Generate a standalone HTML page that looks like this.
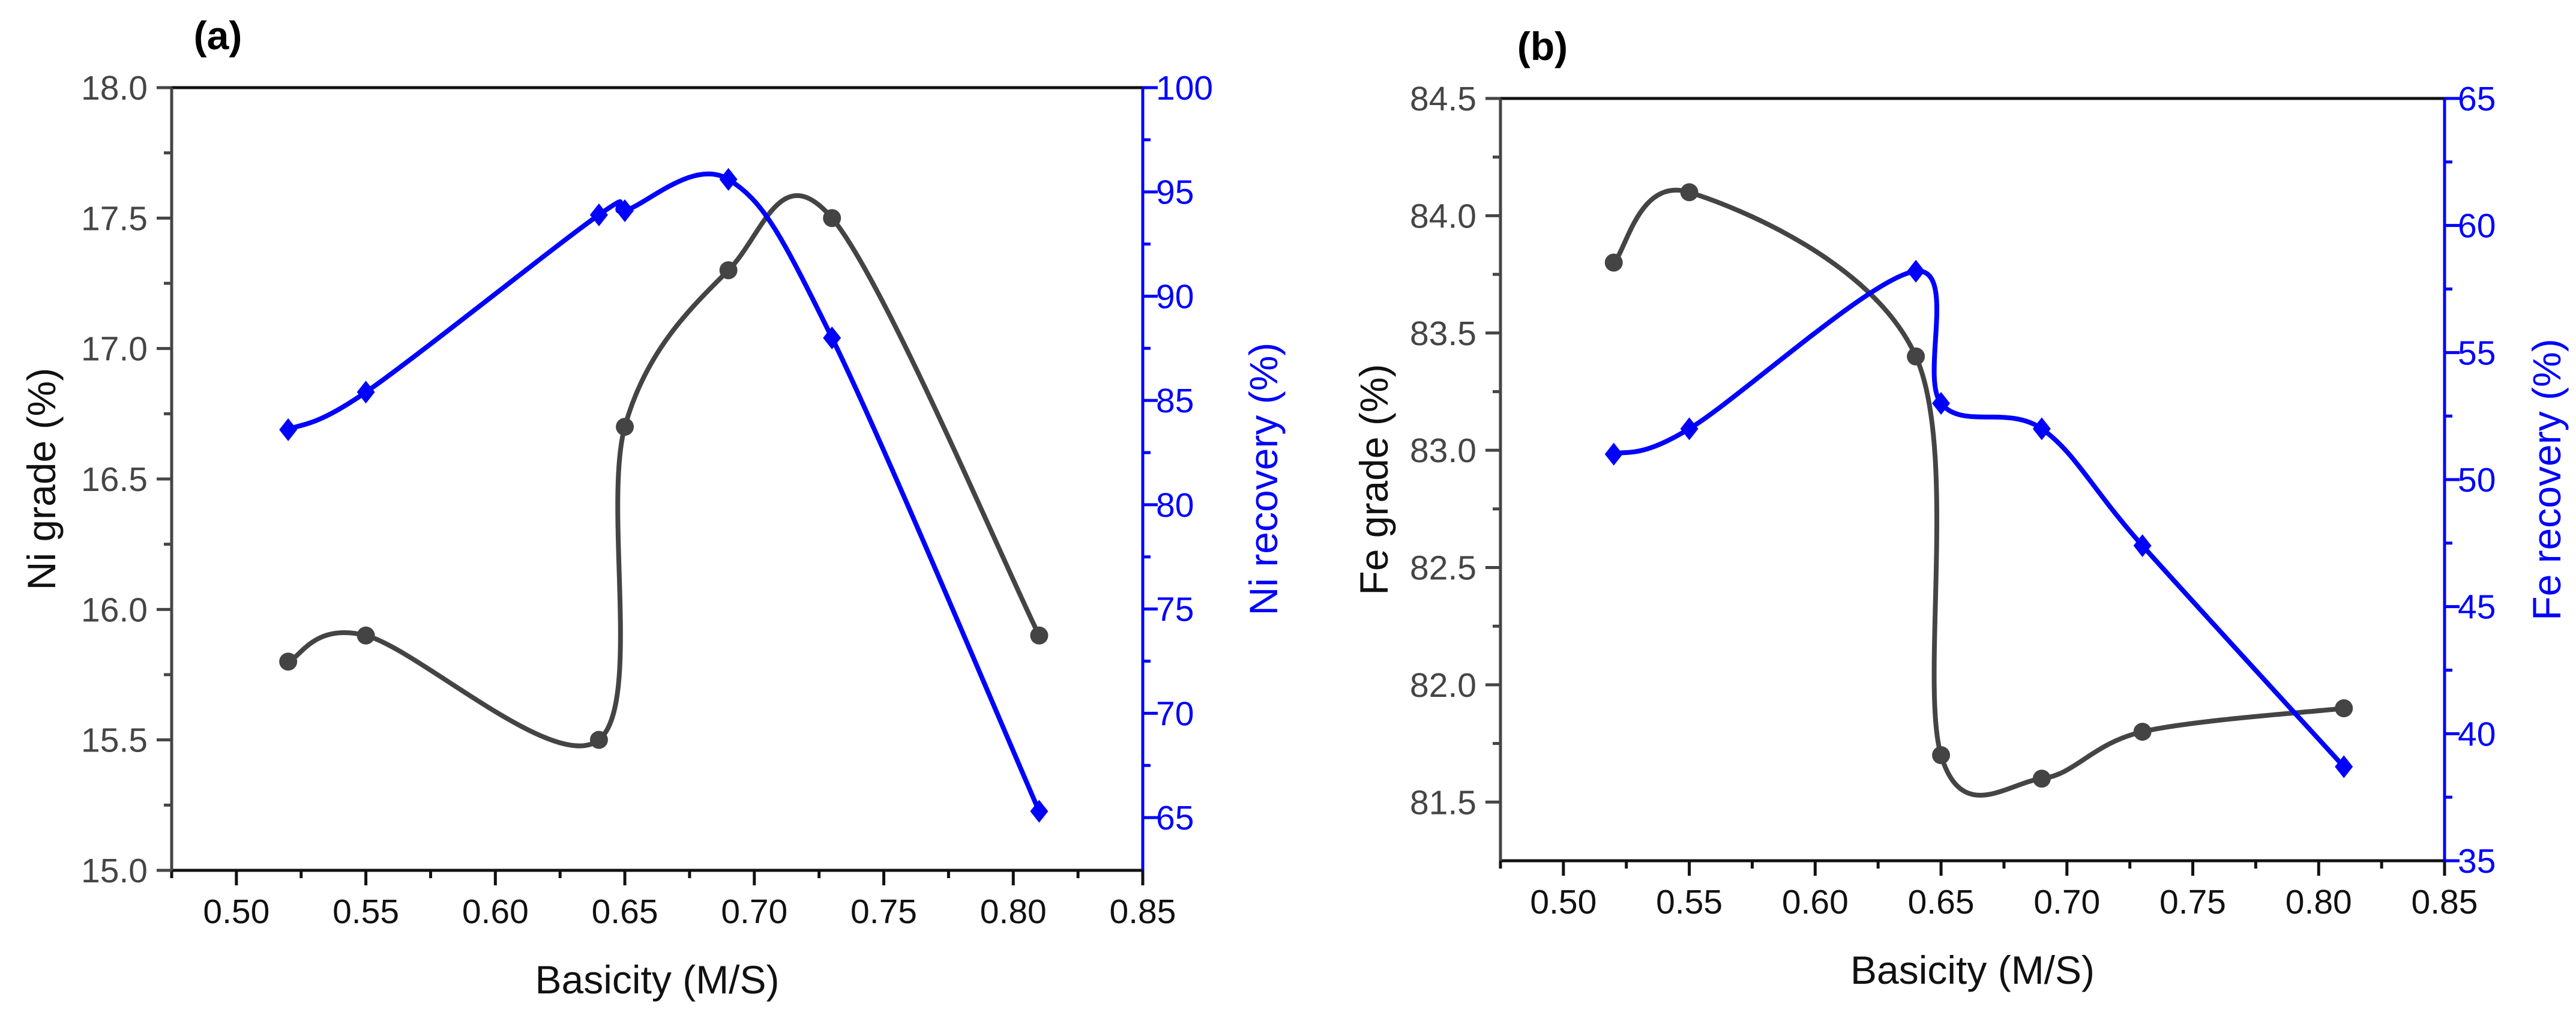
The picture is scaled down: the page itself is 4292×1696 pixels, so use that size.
<!DOCTYPE html>
<html><head><meta charset="utf-8"><style>
html,body{margin:0;padding:0;background:#fff;}
svg{display:block;font-family:"Liberation Sans",Arial,sans-serif;}
</style></head><body>
<svg id="fig" width="4292" height="1696" viewBox="0 0 4292 1696" xmlns="http://www.w3.org/2000/svg"></svg>
<script>
// ---- Data ----
const basicity = [0.52, 0.55, 0.64, 0.65, 0.69, 0.73, 0.81];
const niGrade = [15.8, 15.9, 15.5, 16.7, 17.3, 17.5, 15.9];
const niRecovery = [83.6, 85.4, 93.9, 94.1, 95.6, 88.0, 65.3];
const feGrade = [83.8, 84.1, 83.4, 81.7, 81.6, 81.8, 81.9];
const feRecovery = [51.0, 52.0, 58.2, 53.0, 52.0, 47.4, 38.7];
const xTicks = ["0.50","0.55","0.60","0.65","0.70","0.75","0.80","0.85"];
const niGradeTicks = ["15.0","15.5","16.0","16.5","17.0","17.5","18.0"];
const niRecTicks = ["65","70","75","80","85","90","95","100"];
const feGradeTicks = ["81.5","82.0","82.5","83.0","83.5","84.0","84.5"];
const feRecTicks = ["35","40","45","50","55","60","65"];

const NS = "http://www.w3.org/2000/svg";
const svg = document.getElementById("fig");
function mk(tag, attrs, parent, name, inter) {
  const e = document.createElementNS(NS, tag);
  for (const k in attrs) e.setAttribute(k, attrs[k]);
  
  
  (parent || svg).appendChild(e);
  return e;
}
function txt(x, y, s, attrs, name) {
  const e = mk("text", Object.assign({x: x, y: y}, attrs), svg, name, false);
  e.textContent = s;
  return e;
}
function splinePath(pts) {
  let d = "M" + pts[0][0] + "," + pts[0][1];
  for (let i = 0; i < pts.length - 1; i++) {
    const p0 = pts[Math.max(0, i - 1)], p1 = pts[i], p2 = pts[i + 1], p3 = pts[Math.min(pts.length - 1, i + 2)];
    const c1x = p1[0] + (p2[0] - p0[0]) / 6, c1y = p1[1] + (p2[1] - p0[1]) / 6;
    const c2x = p2[0] - (p3[0] - p1[0]) / 6, c2y = p2[1] - (p3[1] - p1[1]) / 6;
    d += " C" + c1x + "," + c1y + " " + c2x + "," + c2y + " " + p2[0] + "," + p2[1];
  }
  return d;
}

function panel(cfg) {
  const L = cfg.L, R = cfg.R, T = cfg.T, B = cfg.B;
  const xmin = 0.475, xmax = 0.85;
  const sx = v => L + (v - xmin) / (xmax - xmin) * (R - L);
  const sy1 = v => B - (v - cfg.y1min) / (cfg.y1max - cfg.y1min) * (B - T);
  const sy2 = v => B - (v - cfg.y2min) / (cfg.y2max - cfg.y2min) * (B - T);
  const gray = "#454545";
  mk("line", {x1: L, y1: T, x2: R, y2: T, stroke: "#111", "stroke-width": 5}, svg, cfg.p + "-top-frame", false);
  mk("line", {x1: L, y1: B, x2: R, y2: B, stroke: "#111", "stroke-width": 5}, svg, cfg.p + "-x-axis", false);
  mk("line", {x1: L, y1: T, x2: L, y2: B, stroke: gray, "stroke-width": 5}, svg, cfg.p + "-left-axis", false);
  mk("line", {x1: R, y1: T, x2: R, y2: B + 2, stroke: "#0000ff", "stroke-width": 5}, svg, cfg.p + "-right-axis", false);
  xTicks.forEach((t, i) => {
    const v = parseFloat(t), x = sx(v);
    mk("line", {x1: x, y1: B, x2: x, y2: B + 25, stroke: "#111", "stroke-width": 5}, svg, cfg.p + "-x-tick", false);
    const xm = sx(v - 0.025);
    mk("line", {x1: xm, y1: B, x2: xm, y2: B + 13, stroke: "#111", "stroke-width": 5}, svg, cfg.p + "-x-minor-tick", false);
    txt(x, B + 88, t, {"font-size": 57, fill: "#111", "text-anchor": "middle"}, cfg.p + "-x-tick-label");
  });
  cfg.y1Ticks.forEach((t, i) => {
    const v = parseFloat(t), y = sy1(v);
    mk("line", {x1: L - 25, y1: y, x2: L, y2: y, stroke: gray, "stroke-width": 5}, svg, cfg.p + "-left-tick", false);
    const ym = sy1(v + cfg.y1step / 2);
    if (ym > T + 5) mk("line", {x1: L - 13, y1: ym, x2: L, y2: ym, stroke: gray, "stroke-width": 5}, svg, cfg.p + "-left-minor-tick", false);
    const ymb = sy1(v - cfg.y1step / 2);
    if (i === 0 && ymb < B - 5) mk("line", {x1: L - 13, y1: ymb, x2: L, y2: ymb, stroke: gray, "stroke-width": 5}, svg, cfg.p + "-left-minor-tick", false);
    txt(L - 40, y + 20, t, {"font-size": 57, fill: gray, "text-anchor": "end"}, cfg.p + "-left-tick-label");
  });
  cfg.y2Ticks.forEach((t, i) => {
    const v = parseFloat(t), y = sy2(v);
    mk("line", {x1: R, y1: y, x2: R + 25, y2: y, stroke: "#0000ff", "stroke-width": 5}, svg, cfg.p + "-right-tick", false);
    const ym = sy2(v + cfg.y2step / 2);
    if (ym > T + 5) mk("line", {x1: R, y1: ym, x2: R + 13, y2: ym, stroke: "#0000ff", "stroke-width": 5}, svg, cfg.p + "-right-minor-tick", false);
    const ymb = sy2(v - cfg.y2step / 2);
    if (i === 0 && ymb < B - 5) mk("line", {x1: R, y1: ymb, x2: R + 13, y2: ymb, stroke: "#0000ff", "stroke-width": 5}, svg, cfg.p + "-right-minor-tick", false);
    txt(R + 22, y + 20, t, {"font-size": 57, fill: "#0000ff", "text-anchor": "start"}, cfg.p + "-right-tick-label");
  });
  txt(cfg.labX, cfg.labY, cfg.label, {"font-size": 66, "font-weight": "bold", fill: "#000", "text-anchor": "middle"}, cfg.p + "-panel-label");
  txt((L + R) / 2, B + 205, "Basicity (M/S)", {"font-size": 66, fill: "#111", "text-anchor": "middle"}, cfg.p + "-x-axis-title");
  const ly = (T + B) / 2;
  txt(0, 0, cfg.y1Title, {"font-size": 66, fill: "#111", "text-anchor": "middle", transform: "translate(" + (cfg.y1TitleX) + "," + ly + ") rotate(-90)"}, cfg.p + "-left-axis-title");
  txt(0, 0, cfg.y2Title, {"font-size": 66, fill: "#0000ff", "text-anchor": "middle", transform: "translate(" + (cfg.y2TitleX) + "," + ly + ") rotate(-90)"}, cfg.p + "-right-axis-title");
  const p1 = basicity.map((b, i) => [sx(b), sy1(cfg.s1[i])]);
  mk("path", {d: splinePath(p1), fill: "none", stroke: "#444", "stroke-width": 8}, svg, cfg.p + "-grade-line", false);
  p1.forEach(p => mk("circle", {cx: p[0], cy: p[1], r: 15, fill: "#444"}, svg, cfg.p + "-grade-point", false));
  const p2 = basicity.map((b, i) => [sx(b), sy2(cfg.s2[i])]);
  mk("path", {d: splinePath(p2), fill: "none", stroke: "#0000ff", "stroke-width": 8}, svg, cfg.p + "-recovery-line", false);
  p2.forEach(p => mk("polygon", {points: (p[0]) + "," + (p[1] - 19) + " " + (p[0] + 15) + "," + p[1] + " " + p[0] + "," + (p[1] + 19) + " " + (p[0] - 15) + "," + p[1], fill: "#0000ff"}, svg, cfg.p + "-recovery-point", false));
}

panel({p: "panel-a", L: 286, R: 1904, T: 146, B: 1450,
  y1min: 15.0, y1max: 18.0, y1step: 0.5, y1Ticks: niGradeTicks,
  y2min: 62.47, y2max: 100, y2step: 5, y2Ticks: niRecTicks,
  s1: niGrade, s2: niRecovery, label: "(a)", labX: 363, labY: 82,
  y1Title: "Ni grade (%)", y1TitleX: 92, y2Title: "Ni recovery (%)", y2TitleX: 2128});
panel({p: "panel-b", L: 2500, R: 4073, T: 164, B: 1434,
  y1min: 81.25, y1max: 84.5, y1step: 0.5, y1Ticks: feGradeTicks,
  y2min: 35, y2max: 65, y2step: 5, y2Ticks: feRecTicks,
  s1: feGrade, s2: feRecovery, label: "(b)", labX: 2570, labY: 100,
  y1Title: "Fe grade (%)", y1TitleX: 2312, y2Title: "Fe recovery (%)", y2TitleX: 4266});
</script>
</body></html>
